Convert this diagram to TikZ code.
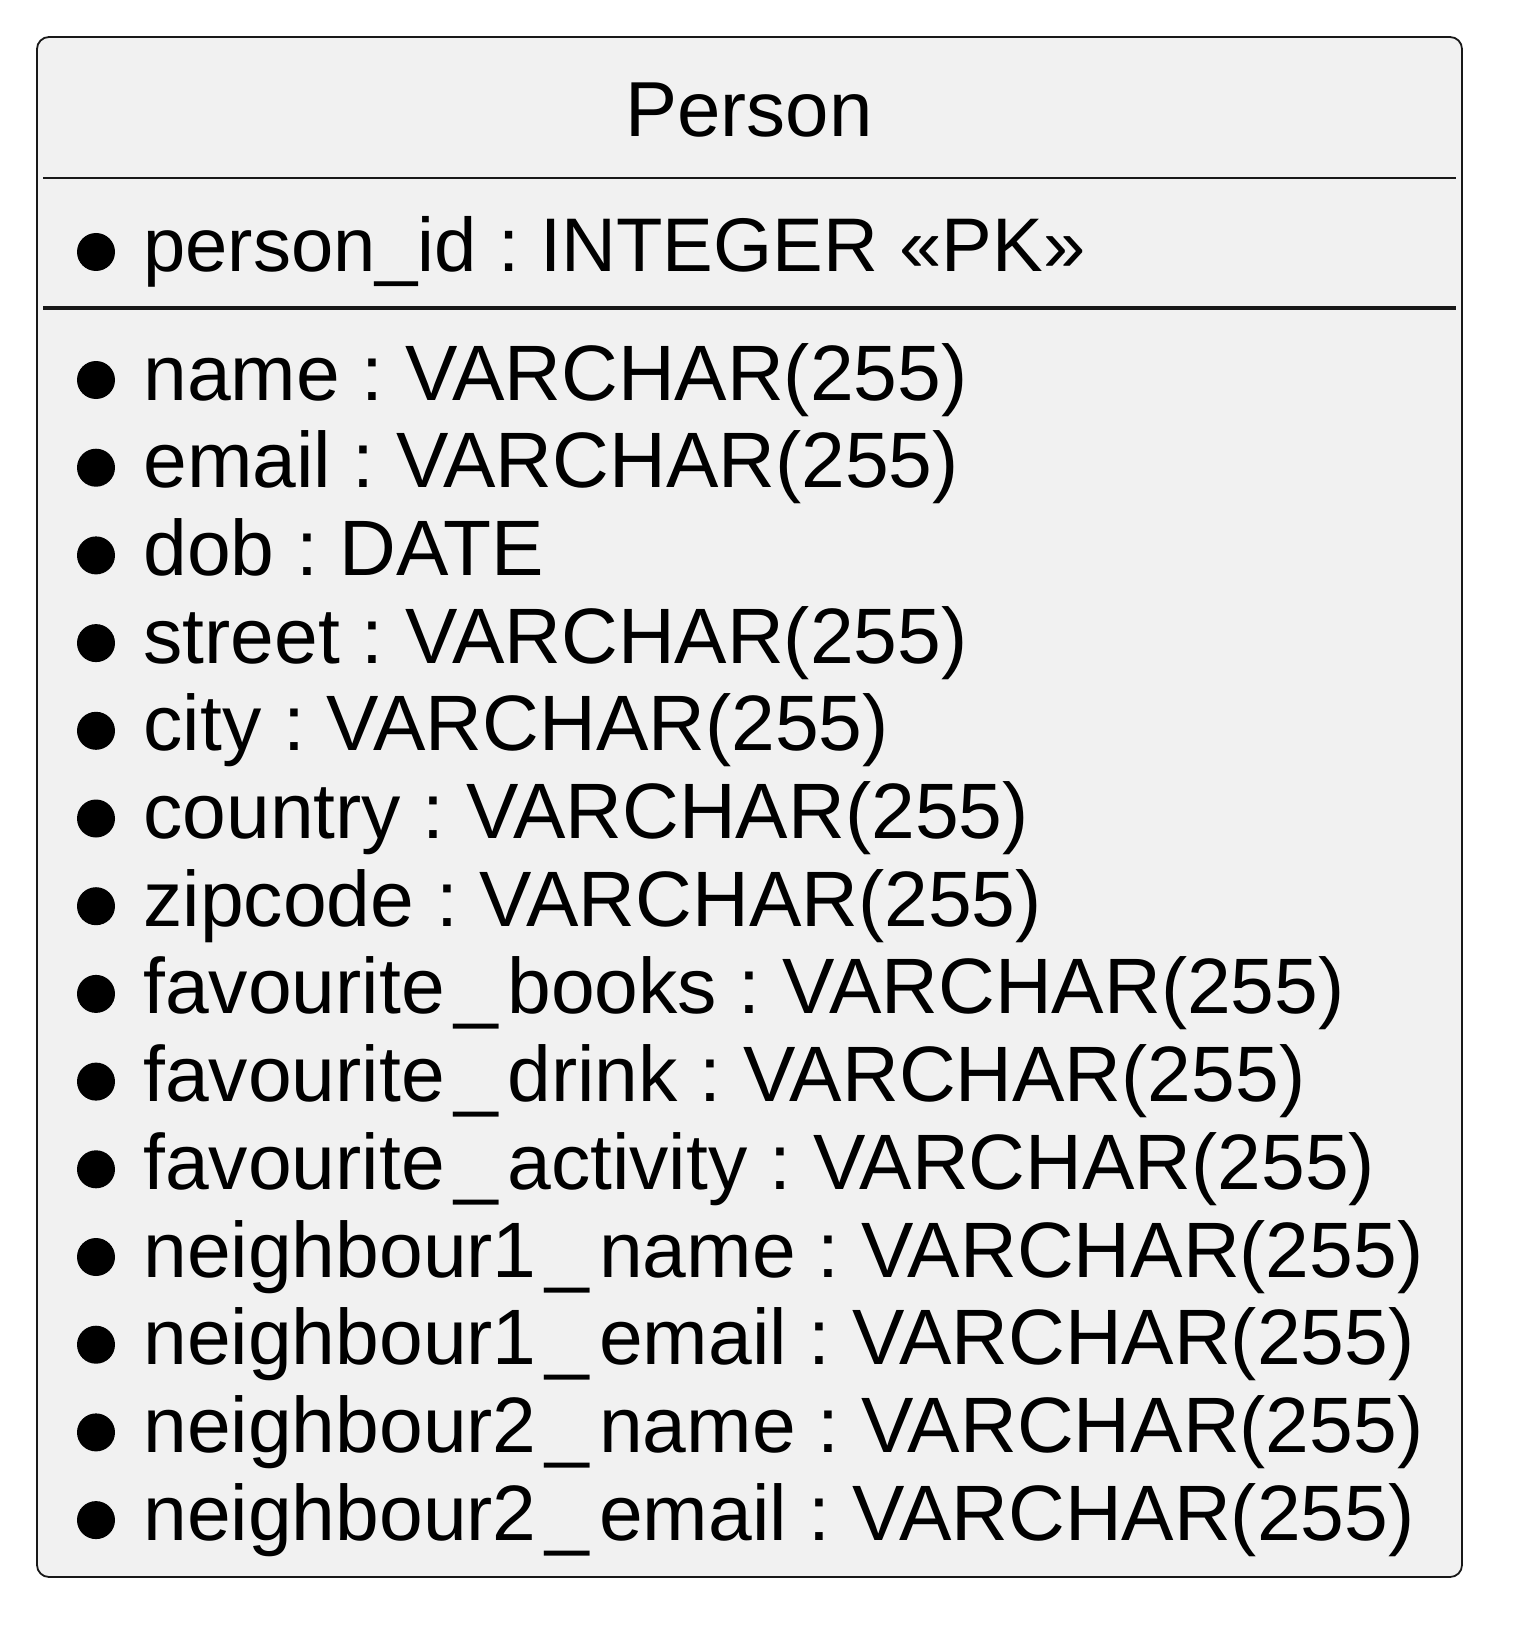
\documentclass[tikz,border=0pt]{standalone}
\usepackage{fontspec}
\setmainfont{Liberation Sans}
\frenchspacing
\definecolor{entityfill}{HTML}{F1F1F1}
\definecolor{entityline}{HTML}{181818}
\newcommand\us{\kern0.12em\_\kern0.12em}
\tikzset{
  fieldtext/.style={anchor=base west, inner sep=0pt, font=\fontsize{39.3pt}{47pt}\selectfont},
  fielddot/.style={circle, fill=black, inner sep=0pt, minimum size=19pt},
}
\begin{document}
\begin{tikzpicture}[x=0.5pt, y=-0.5pt]
  \useasboundingbox (0,0) rectangle (1536,1647);
  \draw[entityline, fill=entityfill, line width=0.9pt, rounded corners=6pt] (37,37) rectangle (1462,1577);

  % header
  \node[fieldtext, anchor=base, font=\fontsize{39pt}{47pt}\selectfont] (title) at (749,137) {Person};
  \draw[entityline, line width=0.85pt] (43,178) -- (1456,178);

  % key
  \node[fielddot] (pkdot) at (96,252) {};
  \node[fieldtext, font=\fontsize{38pt}{47pt}\selectfont] (pk) at (143,272) {person\_id : INTEGER «PK»};
  \draw[entityline, line width=1.7pt] (43,308) -- (1456,308);

  % fields
  \foreach \f [count=\i from 0] in {
      {name : VARCHAR(255)},
      {email : VARCHAR(255)},
      {dob : DATE},
      {street : VARCHAR(255)},
      {city : VARCHAR(255)},
      {country : VARCHAR(255)},
      {zipcode : VARCHAR(255)},
      {favourite\us books : VARCHAR(255)},
      {favourite\us drink : VARCHAR(255)},
      {favourite\us activity : VARCHAR(255)},
      {neighbour1\us name : VARCHAR(255)},
      {neighbour1\us email : VARCHAR(255)},
      {neighbour2\us name : VARCHAR(255)},
      {neighbour2\us email : VARCHAR(255)}} {
    \pgfmathsetmacro\yy{400+87.7*\i}
    \node[fielddot] (dot\i) at (96,\yy-20) {};
    \node[fieldtext] (field\i) at (143,\yy) {\f};
  }
\end{tikzpicture}
\end{document}
